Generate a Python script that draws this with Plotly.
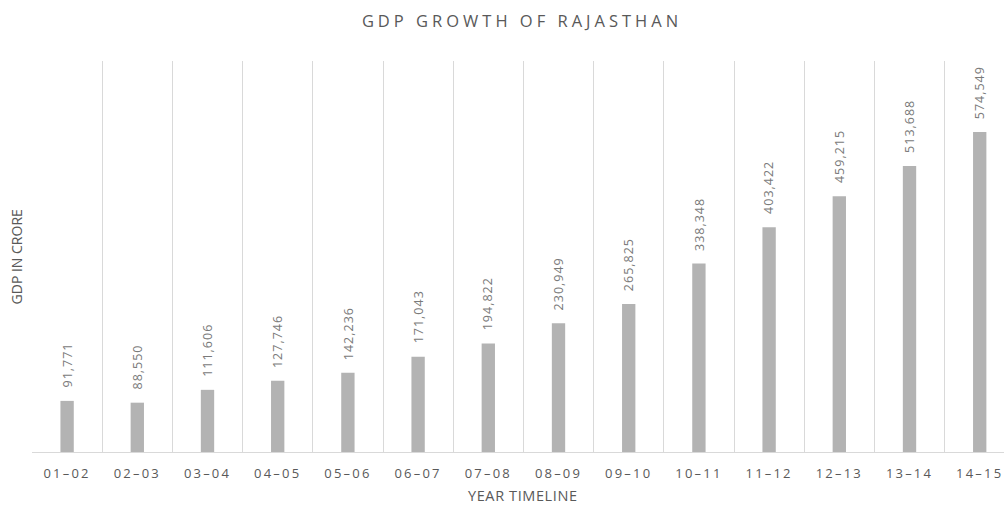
import plotly.graph_objects as go

# Rajasthan GDP (in crore) by fiscal year
years = ["01–02", "02–03", "03–04", "04–05", "05–06", "06–07", "07–08",
         "08–09", "09–10", "10–11", "11–12", "12–13", "13–14", "14–15"]
gdp_crore = [91771, 88550, 111606, 127746, 142236, 171043, 194822,
             230949, 265825, 338348, 403422, 459215, 513688, 574549]

FONT = "Open Sans, Segoe UI, sans-serif"
TEXT_GREY = "#595959"
LABEL_GREY = "#7a7a7a"
BAR_GREY = "#b3b3b3"
GRID_GREY = "#d9d9d9"


def spaced(text, px):
    return f'<span style="letter-spacing:{px}px">{text}</span>'


fig = go.Figure(
    go.Bar(
        x=years,
        y=gdp_crore,
        marker=dict(color=BAR_GREY, line=dict(width=0)),
        width=0.19,
        hoverinfo="x+y",
    )
)

# rotated value labels above each bar
for yr, v in zip(years, gdp_crore):
    fig.add_annotation(
        x=yr, y=v, xref="x", yref="y",
        text=spaced(f"{v:,}", 1.0),
        textangle=-90,
        showarrow=False,
        xanchor="center", yanchor="bottom",
        yshift=11,
        font=dict(family=FONT, size=12.5, color=LABEL_GREY),
    )

# axis titles
fig.add_annotation(
    text="GDP IN CRORE", textangle=-90, showarrow=False,
    xref="paper", yref="paper", x=-0.0155, y=0.50,
    xanchor="center", yanchor="middle",
    font=dict(family=FONT, size=14, color=TEXT_GREY),
)
fig.add_annotation(
    text=spaced("YEAR TIMELINE", 0.6), showarrow=False,
    xref="paper", yref="paper", x=0.505, y=-0.112,
    xanchor="center", yanchor="middle",
    borderpad=0,
    font=dict(family=FONT, size=14.5, color=TEXT_GREY),
)

fig.update_layout(
    width=1004,
    height=506,
    margin=dict(l=32, r=0, t=61, b=54),
    paper_bgcolor="white",
    plot_bgcolor="white",
    showlegend=False,
    title=dict(
        text=spaced("GDP GROWTH OF RAJASTHAN", 4.0),
        x=522 / 1004, xref="container", xanchor="center",
        y=1 - 21 / 506, yref="container", yanchor="middle",
        font=dict(family=FONT, size=16.5, color=TEXT_GREY),
    ),
    xaxis=dict(
        type="category",
        range=[-0.5, 13.346],
        tickmode="array",
        tickvals=years,
        ticktext=[spaced(t, 2.2) for t in years],
        tickson="boundaries",
        showgrid=True,
        gridcolor=GRID_GREY,
        gridwidth=1,
        showline=True,
        linecolor=GRID_GREY,
        linewidth=1,
        ticks="",
        ticklabelstandoff=9,
        tickfont=dict(family=FONT, size=13, color=TEXT_GREY),
        fixedrange=True,
    ),
    yaxis=dict(
        range=[0, 702000],
        showgrid=False,
        showticklabels=False,
        zeroline=False,
        showline=False,
        ticks="",
        fixedrange=True,
    ),
    bargap=0.81,
)

fig.write_html("out.html")
